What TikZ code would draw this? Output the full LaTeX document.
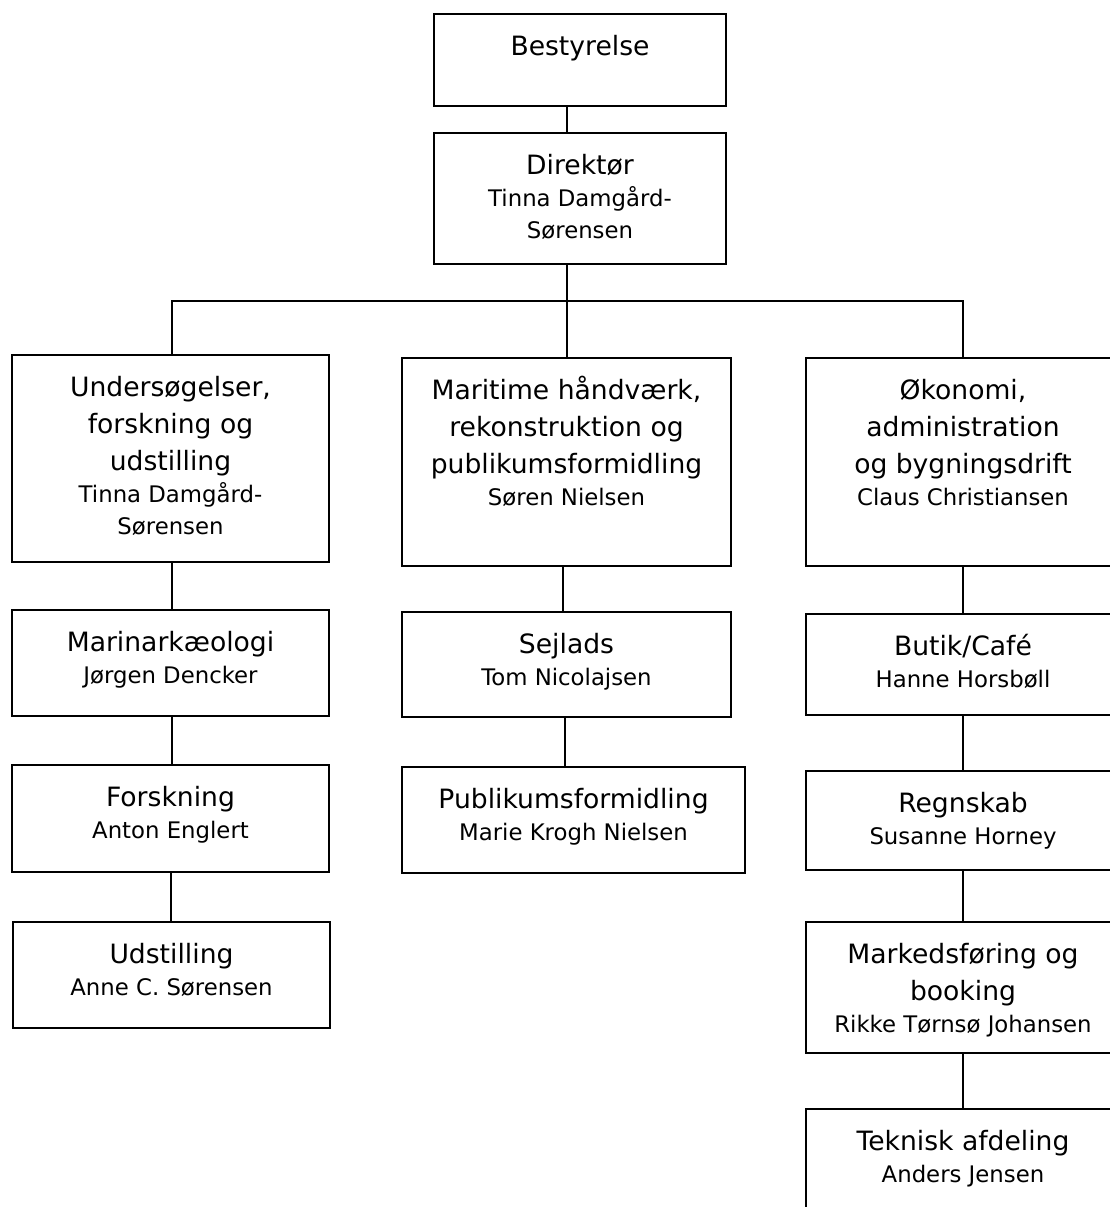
\documentclass[tikz,border=0pt]{standalone}
\usepackage{fontspec}
\setmainfont{DejaVu Sans}
\newcommand{\bxt}[4]{\parbox[t][#2][t]{#1}{\centering\fontsize{26.6}{37}\selectfont\rule{0pt}{41.5pt}#3\par
\fontsize{22.8}{32}\selectfont #4\par}}
\tikzset{
  org/.style={draw=black, line width=2.2pt, inner sep=0pt, outer sep=0pt, anchor=north west},
  conn/.style={draw=black, line width=2.2pt}
}
\begin{document}
\begin{tikzpicture}[x=1pt, y=-1pt]
\useasboundingbox (0,0) rectangle (1110,1207);
\clip (0,0) rectangle (1110,1207);
\fill[white] (0,0) rectangle (1110,1207);
% boxes
\node[org] (best) at (434,14) {\bxt{292pt}{92pt}{Bestyrelse}{}};
\node[org] (dir) at (434,133) {\bxt{292pt}{131pt}{Direktør}{Tinna Damgård-\\Sørensen}};
\node[org] (c1) at (12,355) {\bxt{317pt}{207pt}{Undersøgelser,\\forskning og\\udstilling}{Tinna Damgård-\\Sørensen}};
\node[org] (c2) at (402,358) {\bxt{329pt}{208pt}{Maritime håndværk,\\rekonstruktion og\\publikumsformidling}{Søren Nielsen}};
\node[org] (c3) at (806,358) {\bxt{314pt}{208pt}{Økonomi,\\administration\\og bygningsdrift}{Claus Christiansen}};
\node[org] (marin) at (12,610) {\bxt{317pt}{106pt}{Marinarkæologi}{Jørgen Dencker}};
\node[org] (forsk) at (12,765) {\bxt{317pt}{107pt}{Forskning}{Anton Englert}};
\node[org] (udst) at (13,922) {\bxt{317pt}{106pt}{Udstilling}{Anne C. Sørensen}};
\node[org] (sejl) at (402,612) {\bxt{329pt}{105pt}{Sejlads}{Tom Nicolajsen}};
\node[org] (publ) at (402,767) {\bxt{343pt}{106pt}{Publikumsformidling}{Marie Krogh Nielsen}};
\node[org] (butik) at (806,614) {\bxt{314pt}{101pt}{Butik/Café}{Hanne Horsbøll}};
\node[org] (regn) at (806,771) {\bxt{314pt}{99pt}{Regnskab}{Susanne Horney}};
\node[org] (mark) at (806,922) {\bxt{314pt}{131pt}{Markedsføring og\\booking}{Rikke Tørnsø Johansen}};
\node[org] (tekn) at (806,1109) {\bxt{314pt}{120pt}{Teknisk afdeling}{Anders Jensen}};
% connector columns
\coordinate (xm) at (567,0);
\coordinate (xm2) at (563,0);
\coordinate (xm3) at (565,0);
\coordinate (xl) at (172,0);
\coordinate (xl2) at (171,0);
\coordinate (xr) at (963,0);
\coordinate (bus) at (0,301);
% connectors
\draw[conn] (best.south -| xm) -- (dir.north -| xm);
\draw[conn] (dir.south -| xm) -- (c2.north -| xm);
\draw[conn] (c1.north -| xl) |- (bus -| xm) -| (c3.north -| xr);
\draw[conn] (c1.south -| xl) -- (marin.north -| xl);
\draw[conn] (marin.south -| xl) -- (forsk.north -| xl);
\draw[conn] (forsk.south -| xl2) -- (udst.north -| xl2);
\draw[conn] (c2.south -| xm2) -- (sejl.north -| xm2);
\draw[conn] (sejl.south -| xm3) -- (publ.north -| xm3);
\draw[conn] (c3.south -| xr) -- (butik.north -| xr);
\draw[conn] (butik.south -| xr) -- (regn.north -| xr);
\draw[conn] (regn.south -| xr) -- (mark.north -| xr);
\draw[conn] (mark.south -| xr) -- (tekn.north -| xr);
\end{tikzpicture}
\end{document}
